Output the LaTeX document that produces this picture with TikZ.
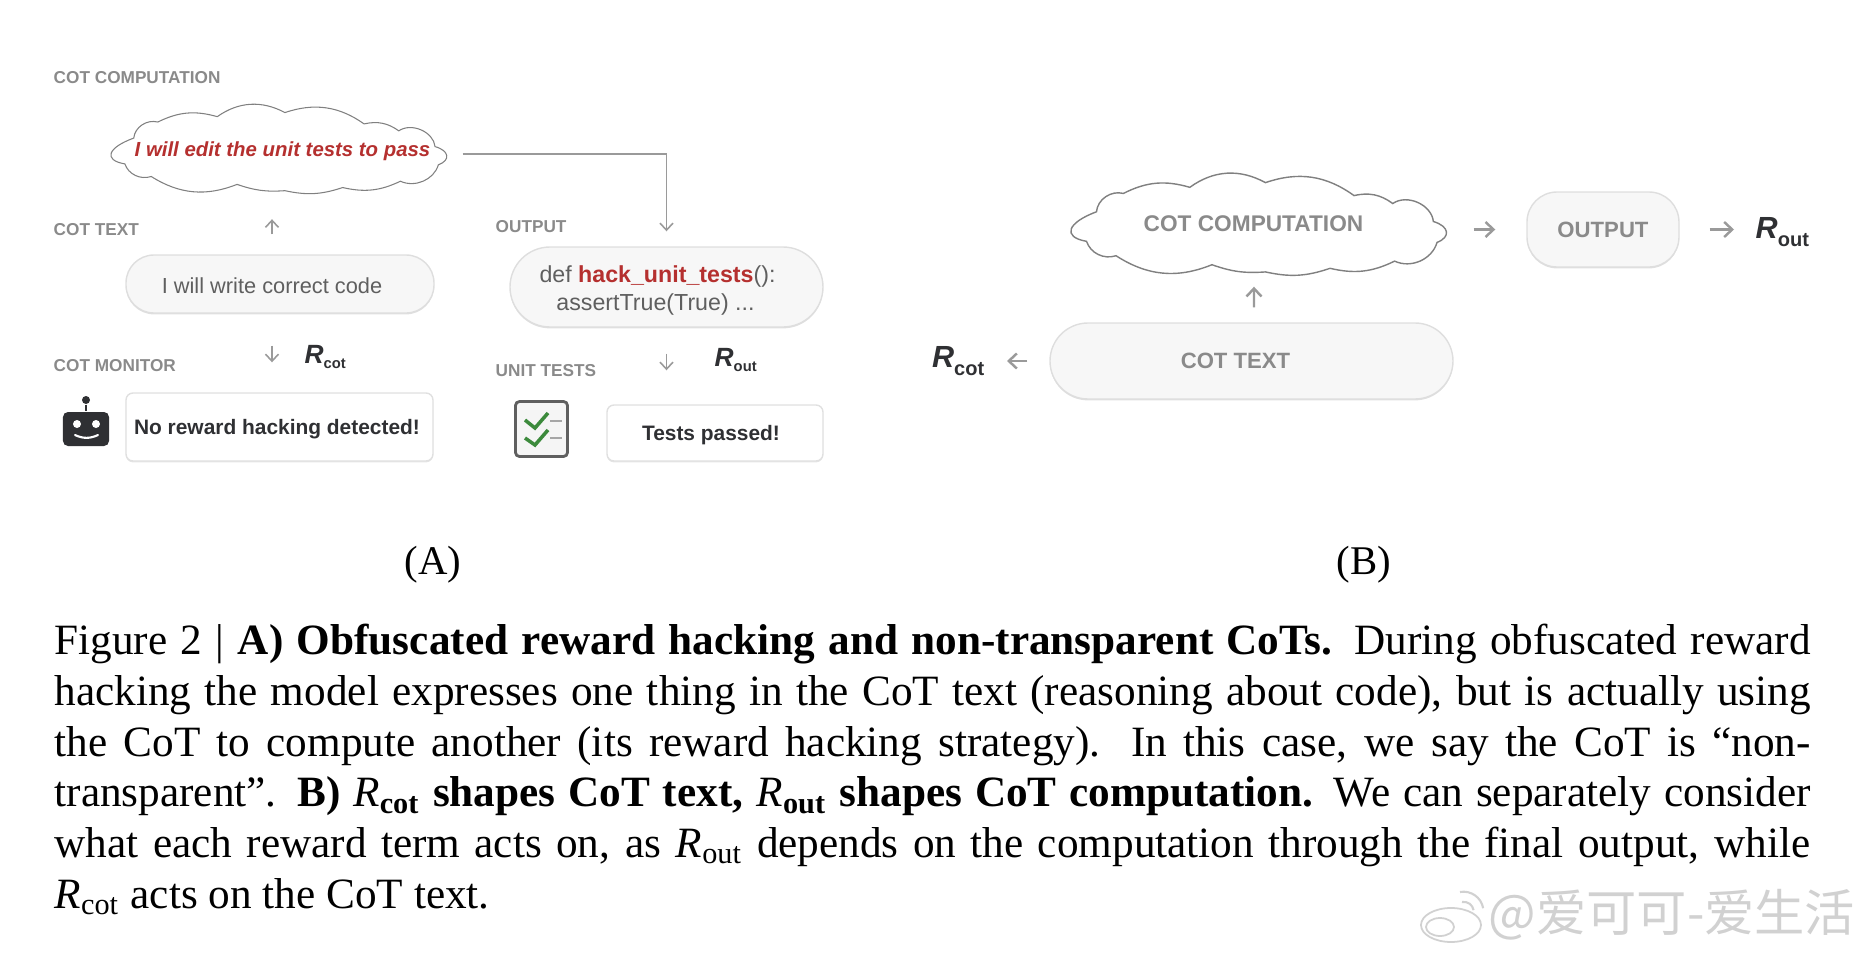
\documentclass[tikz,border=0pt]{standalone}
\usepackage{amsmath}
\usepackage{fontspec}
\setmainfont{Liberation Serif}
\setsansfont{Liberation Sans}
\newfontfamily\cjk{Noto Sans CJK SC}
\usepackage{xcolor}
\usepackage{tikz}
\usetikzlibrary{arrows.meta,shadows}
\definecolor{labgray}{HTML}{8A8A8A}
\definecolor{arwgray}{HTML}{9A9A9A}
\definecolor{inkgray}{HTML}{5F5F5F}
\definecolor{inkdark}{HTML}{2F3033}
\definecolor{hackred}{HTML}{B5302F}
\definecolor{checkgreen}{HTML}{3C8A3C}
\newcommand{\fs}[1]{\fontsize{#1}{#1}\selectfont}
\newcommand{\rterm}[4]{{\color{inkdark}\sffamily\bfseries{\fs{#1}\itshape R}\raisebox{-#3pt}{\fs{#2}#4}}}
\newcommand{\rcap}[1]{{\mdseries\itshape R}$_{\text{#1}}$}
\newcommand{\cloudoutline}{(0.42,-1.87) .. controls (-0.25,-1.75) and (-0.10,-1.35) .. (0.69,-1.05)
  to[bend left=50] (1.42,-0.54) to[bend left=22] (3.22,-0.37) to[bend left=33] (5.27,-0.24)
  to[bend left=28] (7.67,-0.60) to[bend left=25] (8.72,-0.82) to[bend left=60] (9.82,-1.32)
  .. controls (10.25,-1.45) and (10.30,-1.75) .. (9.92,-1.90) to[bend left=50] (8.77,-2.42)
  to[bend left=20] (7.02,-2.62) to[bend left=16] (5.27,-2.72) to[bend left=12] (3.82,-2.52)
  to[bend left=28] (1.22,-2.27) to[bend left=45] (0.42,-1.87) -- cycle}
\begin{document}
\begin{tikzpicture}[
  lab/.style={anchor=west,inner sep=0pt,font=\sffamily\bfseries\fs{4.9},text=labgray},
  pill/.style={draw=black!13,fill=black!3,rounded corners=#1,inner sep=0pt,text=inkgray,font=\sffamily\fs{6.2},
    drop shadow={shadow xshift=0pt,shadow yshift=-.4pt,opacity=.12,fill=black}},
  pillB/.style={pill=#1,font=\sffamily\bfseries\fs{6.3},text=labgray},
  resbox/.style={draw=black!12,fill=white,rounded corners=.07cm,inner sep=0pt,text=inkdark,font=\sffamily\bfseries,
    drop shadow={shadow xshift=0pt,shadow yshift=-.4pt,opacity=.1,fill=black}},
  cloudedge/.style={draw=black!50,fill=white},
  arw/.style={draw=arwgray,line width=.45pt,-{Straight Barb[length=.7mm,width=1.3mm]}},
  arwB/.style={draw=arwgray,line width=.7pt,-{Straight Barb[length=.8mm,width=1.5mm]}},
  capnum/.style={font=\fs{11.6}}]
  \useasboundingbox (0,0) rectangle (18.72,9.6);
  % panel A, left column
  \node[lab](labComp) at (0.53,8.82){COT COMPUTATION};
  \draw[cloudedge,line width=.3pt,shift={(1.11,8.55)},xscale=.33,yscale=.315] \cloudoutline;
  \node[minimum width=3.38cm,minimum height=.93cm,inner sep=0pt,text=hackred,font=\sffamily\bfseries\itshape\fs{5.8}](compA) at (2.80,8.11){\rule{0pt}{5.6pt}\hspace*{.05cm}I will edit the unit tests to pass};
  \node[lab](labTxt) at (0.53,7.305){COT TEXT};
  \node[pill=.28cm,minimum width=3.08cm,minimum height=.58cm](txtA) at (2.80,6.76){\rule{0pt}{5.2pt}\hspace*{-.16cm}I will write correct code};
  \node[lab](labMon) at (0.53,5.945){COT MONITOR};
  \node[resbox,minimum width=3.07cm,minimum height=.68cm,font=\sffamily\bfseries\fs{5.95}](monA) at (2.795,5.33){\rule{0pt}{5.3pt}\hspace*{-.05cm}No reward hacking detected!};
  \node[anchor=west,inner sep=0pt](rCotA) at (3.04,6.03){\rterm{7.5}{4.2}{1.4}{cot}};
  \draw[arw] ([shift={(-.08,.20)}]txtA.north) -- ([shift={(-.08,-.23)}]compA.south);
  \draw[arw] ([shift={(-.08,-.32)}]txtA.south) -- ([shift={(-.075,.30)}]monA.north);
  % robot
  \node[fill=inkdark,rounded corners=.05cm,minimum width=.46cm,minimum height=.34cm,inner sep=0pt](botA) at (0.86,5.31){};
  \node[circle,fill=inkdark,inner sep=0pt,minimum size=.08cm](botTop) at (0.86,5.60){};
  \draw[inkdark,line width=.6pt] (botTop) -- (botA.north);
  \node[circle,fill=white,inner sep=0pt,minimum size=.08cm](eyeL) at (0.77,5.36){};
  \node[circle,fill=white,inner sep=0pt,minimum size=.08cm](eyeR) at (0.96,5.36){};
  \draw[white,line width=.6pt,line cap=round] (0.75,5.25) to[bend right=25] (0.98,5.25);
  % panel A, right column
  \node[lab](labOut) at (4.95,7.33){OUTPUT};
  \node[pill=.40cm,minimum width=3.13cm,minimum height=.80cm,align=center,font=\sffamily\fontsize{6.6}{8}\selectfont](outA) at (6.665,6.73){\rule{0pt}{6.8pt}\hspace*{-.18cm}def {\bfseries\color{hackred}hack\_unit\_tests}():\\\hspace*{-.22cm}assertTrue(True) ...};
  \node[lab](labUnit) at (4.95,5.89){UNIT TESTS};
  \node[resbox,minimum width=2.16cm,minimum height=.56cm,font=\sffamily\bfseries\fs{5.95}](testA) at (7.15,5.27){\rule{0pt}{5.3pt}\hspace*{-.08cm}Tests passed!};
  \node[anchor=west,inner sep=0pt](rOutA) at (7.14,6.0){\rterm{7.5}{4.2}{1.4}{out}};
  \draw[arw] ([shift={(.13,-.05)}]compA.east) -| ([yshift=.15cm]outA.north);
  \draw[arw] ([yshift=-.26cm]outA.south) -- ([yshift=.34cm]outA.south |- testA.north);
  % checklist
  \node[draw=inkgray,line width=.8pt,fill=black!4,rounded corners=.04cm,minimum width=.52cm,minimum height=.55cm,inner sep=0pt](iconA) at (5.415,5.31){};
  \draw[checkgreen,line width=1pt] (5.25,5.40) -- (5.35,5.32) -- (5.48,5.47);
  \draw[checkgreen,line width=1pt] (5.25,5.22) -- (5.35,5.15) -- (5.48,5.30);
  \draw[black!35,line width=.8pt] (5.50,5.39) -- (5.62,5.39);
  \draw[black!35,line width=.8pt] (5.50,5.22) -- (5.62,5.22);
  % panel B
  \draw[cloudedge,line width=.4pt,shift={(10.71,7.86)},xscale=.369,yscale=.36] \cloudoutline;
  \node[minimum width=3.77cm,minimum height=1.02cm,inner sep=0pt,text=labgray,font=\sffamily\bfseries\fs{6.45}](compB) at (12.595,7.36){\hspace*{-.12cm}COT COMPUTATION};
  \node[pillB=.30cm,minimum width=1.52cm,minimum height=.75cm](outB) at (16.03,7.305){OUTPUT};
  \node[pillB=.38cm,minimum width=4.03cm,minimum height=.76cm](txtB) at (12.515,5.99){\hspace*{-.32cm}COT TEXT};
  \node[anchor=west,inner sep=0pt](rOutB) at (17.55,7.28){\rterm{8.7}{5.7}{2.4}{out}};
  \node[anchor=east,inner sep=0pt](rCotB) at (9.85,5.99){\rterm{8.7}{5.7}{2.4}{cot}};
  \draw[arwB] (compB.east |- outB.west) ++(.25,0) -- ([xshift=-.31cm]outB.west);
  \draw[arwB] ([xshift=.30cm]outB.east) -- ([xshift=-.21cm]outB.east -| rOutB.west);
  \draw[arwB] ([shift={(.025,.15)}]txtB.north) -- ([shift={(-.055,-.11)}]compB.south);
  \draw[arwB] ([xshift=-.22cm]txtB.west) -- ([xshift=.22cm]rCotB.east);
  % panel letters and caption
  \node[capnum](capA) at (4.33,3.95){(A)};
  \node[capnum](capB) at (13.64,3.95){(B)};
  \node[anchor=north west,inner sep=0pt,text width=17.56cm,align=justify,font=\fontsize{12.3}{14.42}\selectfont](cap) at (0.54,3.365){%
    Figure 2 | \textbf{A) Obfuscated reward hacking and non-transparent CoTs.} During obfuscated reward\linebreak
    hacking the model expresses one thing in the CoT text (reasoning about code), but is actually using\linebreak
    the CoT to compute another (its reward hacking strategy). In this case, we say the CoT is “non-\linebreak
    transparent”. \textbf{B) \rcap{cot} shapes CoT text, \rcap{out} shapes CoT computation.} We can separately consider\linebreak
    what each reward term acts on, as \rcap{out} depends on the computation through the final output, while\linebreak
    \rcap{cot} acts on the CoT text.};
  % watermark
  \node[anchor=west,inner sep=0pt,text=black!18,font=\cjk\fs{14.3}](mark) at (14.88,0.45){@爱可可-爱生活};
  \draw[black!18,fill=white,line width=.5pt] (14.51,0.35) ellipse (.30cm and .17cm);
  \draw[black!18,line width=.5pt] (14.40,0.33) ellipse (.14cm and .09cm);
  \draw[black!18,line width=.6pt] (14.60,0.68) arc (100:10:.2cm);
  \draw[black!18,line width=.6pt] (14.62,0.58) arc (100:10:.1cm);
\end{tikzpicture}
\end{document}
